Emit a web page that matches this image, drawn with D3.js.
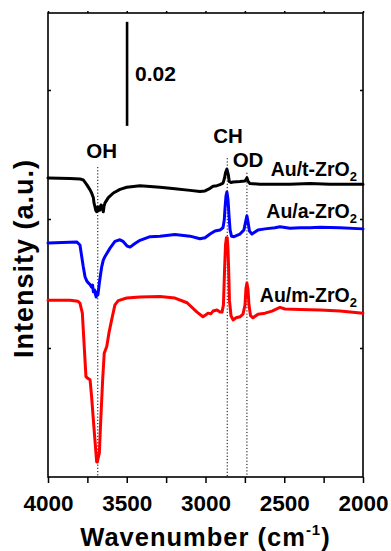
<!DOCTYPE html>
<html>
<head>
<meta charset="utf-8">
<script src="https://cdn.jsdelivr.net/npm/d3@7"></script>
<style>
  html, body { margin: 0; padding: 0; background: #fff; }
  svg { display: block; font-family: "Liberation Sans", Arial, sans-serif; font-weight: bold; }
</style>
</head>
<body>
<svg id="chart" width="391" height="551"></svg>
<script>
// DRIFT spectra of Au on three ZrO2 polymorphs, stacked with offsets (absorbance units)

// Au/t-ZrO2 (black)
const tWn = [4000, 3860, 3797, 3776, 3754, 3733, 3723, 3712, 3708, 3702, 3697, 3691, 3686, 3681, 3676, 3670, 3663, 3659, 3654, 3649, 3644, 3638, 3617, 3585, 3543, 3500, 3416, 3289, 3194, 3098, 3035, 3003, 2971, 2952, 2927, 2908, 2889, 2879, 2873, 2864, 2855, 2849, 2838, 2825, 2781, 2749, 2739, 2737, 2730, 2718, 2654, 2591, 2464, 2337, 2210, 2114, 2000];
const tAbs = [0.0575, 0.0574, 0.0573, 0.0571, 0.0562, 0.0552, 0.0546, 0.0537, 0.0527, 0.0520, 0.0513, 0.0510, 0.0519, 0.0512, 0.0519, 0.0513, 0.0523, 0.0515, 0.0521, 0.0510, 0.0521, 0.0527, 0.0537, 0.0546, 0.0553, 0.0557, 0.0560, 0.0557, 0.0554, 0.0551, 0.0549, 0.0550, 0.0555, 0.0559, 0.0560, 0.0562, 0.0565, 0.0575, 0.0585, 0.0592, 0.0581, 0.0568, 0.0566, 0.0567, 0.0568, 0.0569, 0.0574, 0.0575, 0.0569, 0.0564, 0.0563, 0.0563, 0.0563, 0.0564, 0.0563, 0.0563, 0.0563];

// Au/a-ZrO2 (blue)
const aWn = [4000, 3818, 3797, 3786, 3776, 3765, 3754, 3744, 3733, 3723, 3717, 3712, 3705, 3698, 3694, 3687, 3683, 3674, 3667, 3659, 3649, 3638, 3606, 3575, 3543, 3524, 3498, 3479, 3448, 3416, 3352, 3289, 3194, 3098, 3035, 3003, 2971, 2940, 2908, 2889, 2881, 2876, 2870, 2864, 2857, 2851, 2844, 2835, 2819, 2781, 2756, 2743, 2737, 2730, 2721, 2705, 2667, 2622, 2559, 2527, 2464, 2400, 2337, 2273, 2146, 2000];
const aAbs = [0.0450, 0.0452, 0.0446, 0.0424, 0.0404, 0.0385, 0.0377, 0.0373, 0.0370, 0.0365, 0.0369, 0.0356, 0.0360, 0.0350, 0.0346, 0.0356, 0.0350, 0.0373, 0.0388, 0.0404, 0.0417, 0.0424, 0.0440, 0.0453, 0.0456, 0.0453, 0.0444, 0.0442, 0.0449, 0.0455, 0.0462, 0.0463, 0.0466, 0.0463, 0.0458, 0.0460, 0.0467, 0.0473, 0.0475, 0.0479, 0.0494, 0.0517, 0.0540, 0.0548, 0.0533, 0.0504, 0.0475, 0.0463, 0.0462, 0.0467, 0.0475, 0.0494, 0.0502, 0.0490, 0.0473, 0.0467, 0.0475, 0.0477, 0.0479, 0.0481, 0.0478, 0.0479, 0.0479, 0.0480, 0.0479, 0.0477];

// Au/m-ZrO2 (red)
const mWn = [4000, 3860, 3810, 3797, 3782, 3770, 3759, 3749, 3743, 3733, 3723, 3712, 3702, 3691, 3687, 3681, 3674, 3665, 3653, 3643, 3627, 3613, 3596, 3575, 3554, 3500, 3416, 3289, 3194, 3117, 3054, 3016, 2997, 2984, 2965, 2952, 2927, 2908, 2895, 2886, 2879, 2873, 2867, 2862, 2857, 2852, 2848, 2838, 2825, 2806, 2781, 2762, 2749, 2743, 2737, 2730, 2724, 2714, 2699, 2667, 2622, 2578, 2527, 2495, 2400, 2273, 2146, 2000];
const mAbs = [0.0340, 0.0340, 0.0338, 0.0334, 0.0315, 0.0251, 0.0193, 0.0190, 0.0189, 0.0187, 0.0154, 0.0110, 0.0071, 0.0029, 0.0029, 0.0037, 0.0046, 0.0110, 0.0187, 0.0238, 0.0251, 0.0277, 0.0302, 0.0331, 0.0339, 0.0344, 0.0346, 0.0347, 0.0344, 0.0335, 0.0317, 0.0308, 0.0312, 0.0315, 0.0314, 0.0319, 0.0321, 0.0317, 0.0317, 0.0331, 0.0398, 0.0446, 0.0460, 0.0460, 0.0437, 0.0388, 0.0340, 0.0310, 0.0302, 0.0306, 0.0308, 0.0313, 0.0331, 0.0363, 0.0373, 0.0360, 0.0331, 0.0310, 0.0306, 0.0313, 0.0315, 0.0319, 0.0326, 0.0323, 0.0322, 0.0321, 0.0319, 0.0315];

const seriesNames = ["Au/t-ZrO", "Au/a-ZrO", "Au/m-ZrO"];
const seriesColors = ["#000000", "#0000ff", "#ff0000"];
const seriesLabelAbs = [0.0578, 0.0498, 0.0337];

// band assignments: dotted guide at each band, label beside it
const bandNames = ["OH", "CH", "OD"];
const bandWn = [3684, 2862, 2737];
const bandLabelWn = [3659, 2857, 2730];
const bandLabelAbs = [0.0613, 0.0642, 0.0596];
const bandLineTop = [0.0596, 0.0613, 0.0585];

// 0.02 absorbance scale bar
const scaleBarWn = 3498;
const scaleBarAbs = [0.0675, 0.0875];
const scaleBarText = "0.02";

const xTicks = [4000, 3750, 3500, 3250, 3000, 2750, 2500, 2250, 2000];
const xTickLabels = [4000, 3500, 3000, 2500, 2000];
const yTicks = [0.0248, 0.0496, 0.0744];

const W = 391, H = 551;
const m = { left: 48, right: 28, top: 13, bottom: 74 };
const svg = d3.select("#chart");

const x = d3.scaleLinear().domain([4000, 2000]).range([m.left, W - m.right]);
const y = d3.scaleLinear().domain([0, 0.0892]).range([H - m.bottom, m.top]);

// axes
const fmt = d => xTickLabels.includes(d) ? String(d) : "";
const gx = svg.append("g").attr("transform", `translate(0,${y.range()[0]})`)
  .call(d3.axisBottom(x).tickValues(xTicks).tickFormat(fmt).tickSize(6).tickPadding(12));
gx.attr("font-family", null).attr("font-size", null);
gx.selectAll("text").attr("font-size", 22.5).attr("fill", "#000");
const gxt = svg.append("g").attr("transform", `translate(0,${y.range()[1]})`)
  .call(d3.axisTop(x).tickValues(xTicks).tickFormat("").tickSize(2));
const gyl = svg.append("g").attr("transform", `translate(${x.range()[0]},0)`)
  .call(d3.axisLeft(y).tickValues(yTicks).tickFormat("").tickSize(-3));
const gyr = svg.append("g").attr("transform", `translate(${x.range()[1]},0)`)
  .call(d3.axisRight(y).tickValues(yTicks).tickFormat("").tickSize(-3));
[gx, gxt, gyl, gyr].forEach(g => {
  g.select(".domain").remove();
  g.selectAll(".tick line").attr("stroke", "#000").attr("stroke-width", 1.5);
});

// frame
svg.append("rect")
  .attr("x", x.range()[0]).attr("y", y.range()[1])
  .attr("width", x.range()[1] - x.range()[0])
  .attr("height", y.range()[0] - y.range()[1])
  .attr("fill", "none").attr("stroke", "#000").attr("stroke-width", 1.6);

// dotted band guides
bandWn.forEach((wn, i) => {
  svg.append("line")
    .attr("x1", x(wn)).attr("x2", x(wn))
    .attr("y1", y(bandLineTop[i])).attr("y2", y.range()[0])
    .attr("stroke", "#000").attr("stroke-width", 1)
    .attr("stroke-dasharray", "1.2,2");
});

// spectra
const line = d3.line().x(d => x(d[0])).y(d => y(d[1]));
const series = [
  d3.zip(tWn, tAbs),
  d3.zip(aWn, aAbs),
  d3.zip(mWn, mAbs)
];
series.forEach((pts, i) => {
  svg.append("path").datum(pts)
    .attr("d", line)
    .attr("fill", "none")
    .attr("stroke", seriesColors[i])
    .attr("stroke-width", 3)
    .attr("stroke-linejoin", "round")
    .attr("stroke-linecap", "round");
});

// band labels
bandNames.forEach((t, i) => {
  svg.append("text")
    .attr("x", x(bandLabelWn[i])).attr("y", y(bandLabelAbs[i]))
    .attr("text-anchor", "middle").attr("font-size", 20.5)
    .text(t);
});

// series labels with subscript 2
seriesNames.forEach((t, i) => {
  const tx = svg.append("text")
    .attr("x", x(2038)).attr("y", y(seriesLabelAbs[i]))
    .attr("text-anchor", "end").attr("font-size", 19.5);
  tx.append("tspan").text(t);
  tx.append("tspan").attr("font-size", 13).attr("dy", 5).text("2");
});

// scale bar
svg.append("line")
  .attr("x1", x(scaleBarWn)).attr("x2", x(scaleBarWn))
  .attr("y1", y(scaleBarAbs[0])).attr("y2", y(scaleBarAbs[1]))
  .attr("stroke", "#000").attr("stroke-width", 2.6);
svg.append("text")
  .attr("x", x(scaleBarWn) + 8).attr("y", y((scaleBarAbs[0] + scaleBarAbs[1]) / 2) + 7.5)
  .attr("font-size", 21).text(scaleBarText);

// axis titles
const xt = svg.append("text")
  .attr("x", (x.range()[0] + x.range()[1]) / 2).attr("y", 545.5)
  .attr("text-anchor", "middle").attr("font-size", 25.5).attr("letter-spacing", 1);
xt.append("tspan").text("Wavenumber (cm");
xt.append("tspan").attr("font-size", 15).attr("dy", -11).text("-1");
xt.append("tspan").attr("dy", 11).text(")");

svg.append("text")
  .attr("transform", "translate(33,258.5) rotate(-90)")
  .attr("text-anchor", "middle").attr("font-size", 27).attr("letter-spacing", 1)
  .text("Intensity (a.u.)");
</script>
</body>
</html>
